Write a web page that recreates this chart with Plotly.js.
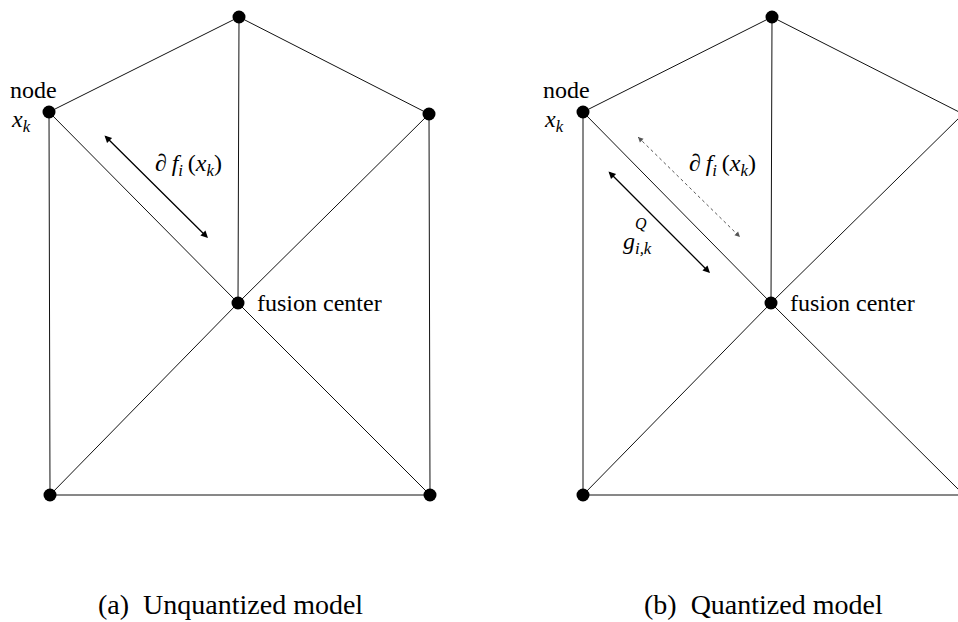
<!DOCTYPE html>
<html><head><meta charset="utf-8">
<script src="https://cdn.plot.ly/plotly-3.0.1.min.js"></script>
<style>html,body{margin:0;padding:0;background:#fff}</style>
</head><body><div id="chart" style="width:958px;height:622px"></div>
<script>
// Node positions (diagram coordinates, y downward), panel (a) and panel (b)
const nodeXA = [239, 49, 429, 238, 50, 430];
const nodeYA = [17, 112, 114, 303, 495, 495];
const nodeXB = [772, 583, 963, 771, 583, 964];
const nodeYB = [17, 112, 114, 303, 495, 495];
// Edges as pairs of node indices
const edgeFrom = [0, 0, 0, 1, 2, 1, 2, 4, 5, 4];
const edgeTo   = [1, 2, 3, 3, 3, 4, 5, 3, 3, 5];
// Arrows: [tailX, tailY, headX, headY]
const arrowA      = [103, 134, 208, 238];
const arrowBSolid = [607, 170, 710, 273];
const arrowBDot   = [638, 137, 740, 237];
// Labels
const labelNode = "node";
const labelXk = "<i>x</i><sub><i>k</i></sub>";
const labelGrad = "∂\u2009<i>f</i><sub><i>i</i></sub>\u2009(<i>x</i><sub><i>k</i></sub>)";
const labelG = "<i>g</i><sub><i>i,k</i></sub>";
const labelQ = "<i>Q</i>";
const labelFusion = "fusion center";
const captions = ["(a)  Unquantized model", "(b)  Quantized model"];

const FONT = "Liberation Serif";

function edgeTrace(nx, ny) {
  const x = [], y = [];
  for (let i = 0; i < edgeFrom.length; i++) {
    x.push(nx[edgeFrom[i]], nx[edgeTo[i]], null);
    y.push(ny[edgeFrom[i]], ny[edgeTo[i]], null);
  }
  return {x, y, mode: 'lines', type: 'scatter', line: {color: '#111', width: 1}, hoverinfo: 'skip', cliponaxis: false};
}
function nodeTrace(nx, ny) {
  return {x: nx, y: ny, mode: 'markers', type: 'scatter', marker: {color: '#000', size: 13, line: {width: 0}}, hoverinfo: 'skip', cliponaxis: false};
}
const dotTrace = {x: [arrowBDot[0], arrowBDot[2]], y: [arrowBDot[1], arrowBDot[3]], mode: 'lines', type: 'scatter',
  line: {color: '#555', width: 1, dash: 'dot'}, hoverinfo: 'skip'};

const data = [edgeTrace(nodeXA, nodeYA), edgeTrace(nodeXB, nodeYB), dotTrace, nodeTrace(nodeXA, nodeYA), nodeTrace(nodeXB, nodeYB)];

function dblArrow(a, color, w) {
  return {x: a[2], y: a[3], ax: a[0], ay: a[1], xref: 'x', yref: 'y', axref: 'x', ayref: 'y', text: '', showarrow: true,
    arrowhead: 2, startarrowhead: 2, arrowside: 'end+start', arrowsize: 1.1, startarrowsize: 1.1, arrowwidth: w, arrowcolor: color};
}
function headOnly(hx, hy, tx, ty, color) {
  const dx = hx - tx, dy = hy - ty, L = Math.hypot(dx, dy);
  return {x: hx, y: hy, ax: -dx / L * 7, ay: -dy / L * 7, xref: 'x', yref: 'y', text: '', showarrow: true,
    arrowhead: 2, arrowsize: 1.3, arrowwidth: 0.8, arrowcolor: color};
}
function txt(x, y, t, size, xanchor) {
  return {x, y, xref: 'x', yref: 'y', text: t, showarrow: false, xanchor: xanchor || 'center', yanchor: 'middle',
    font: {family: FONT, size: size, color: '#000'}};
}

const annotations = [
  dblArrow(arrowA, '#000', 1.3),
  dblArrow(arrowBSolid, '#000', 1.3),
  headOnly(arrowBDot[2], arrowBDot[3], arrowBDot[0], arrowBDot[1], '#555'),
  headOnly(arrowBDot[0], arrowBDot[1], arrowBDot[2], arrowBDot[3], '#555'),
  txt(33, 90, labelNode, 24), txt(21, 121, labelXk, 24),
  txt(566, 90, labelNode, 24), txt(554, 121, labelXk, 24),
  txt(188, 165, labelGrad, 24), txt(722, 165, labelGrad, 24),
  txt(637, 243, labelG, 24), txt(641, 223, labelQ, 16),
  txt(255, 303, labelFusion, 24, 'left'), txt(788, 303, labelFusion, 24, 'left'),
  txt(230, 604, captions[0], 28), txt(763, 604, captions[1], 28)
];

const layout = {
  width: 958, height: 622, margin: {l: 0, r: 0, t: 0, b: 0},
  paper_bgcolor: '#fff', plot_bgcolor: '#fff', showlegend: false,
  xaxis: {range: [0, 958], visible: false, fixedrange: true},
  yaxis: {range: [622, 0], visible: false, fixedrange: true},
  annotations
};
Plotly.newPlot('chart', data, layout, {displayModeBar: false, staticPlot: true});
</script></body></html>
